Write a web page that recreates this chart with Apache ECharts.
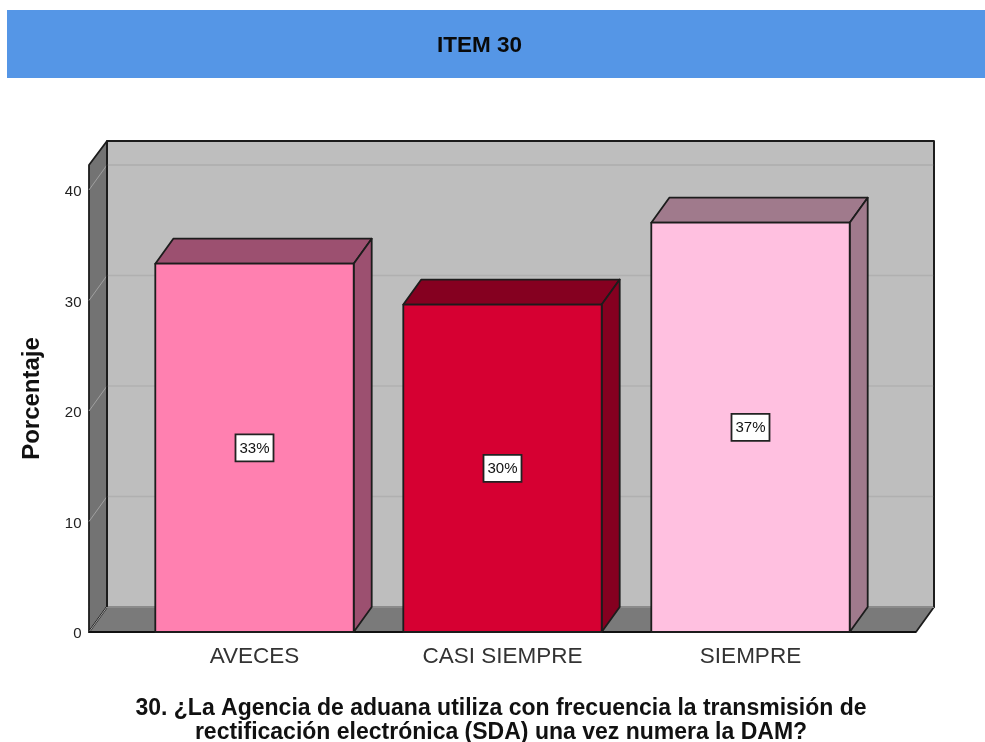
<!DOCTYPE html>
<html>
<head>
<meta charset="utf-8">
<style>html,body{margin:0;padding:0;background:#fff}</style>
<script src="https://cdn.jsdelivr.net/npm/echarts@6/dist/echarts.min.js"></script>
</head>
<body>
<div id="chart" style="width:985px;height:742px"></div>
<script>
var categories = ['AVECES', 'CASI SIEMPRE', 'SIEMPRE'];
var percentages = [33.33, 29.63, 37.04];
var pctLabels = ['33%', '30%', '37%'];
var yTicks = [0, 10, 20, 30, 40];

var frontColors = ['#ff80b0', '#d60032', '#ffc0e0'];
var sideColors = ['#9c5070', '#850020', '#a07a8c'];

// depth of the fake 3d box
var DX = 18, DY = -25;
var EDGE = '#1c1c1c';
var LW = 1.8;
var FONT = '"Liberation Sans", Arial, sans-serif';

function poly(points, fill, stroke, width) {
  return {
    type: 'polygon',
    shape: { points: points },
    style: { fill: fill, stroke: stroke || null, lineWidth: width || 0, lineJoin: 'round' }
  };
}
function seg(a, b, color, width) {
  return {
    type: 'line',
    shape: { x1: a[0], y1: a[1], x2: b[0], y2: b[1] },
    style: { stroke: color, lineWidth: width, fill: null }
  };
}

function renderWalls(params, api) {
  var cs = params.coordSys;
  var l = cs.x - 41.5, r = cs.x + cs.width + 41.5;
  var b = cs.y + cs.height, t = cs.y;
  var backTop = t + DY + 1;
  var children = [
    poly([[l + DX, backTop], [r + DX, backTop], [r + DX, b + DY], [l + DX, b + DY]], '#bebebe', EDGE, LW),
    poly([[l, t], [l + DX, backTop], [l + DX, b + DY], [l, b]], '#737373', EDGE, LW),
    poly([[l, b], [l + DX, b + DY], [r + DX, b + DY], [r, b]], '#7a7a7a', EDGE, LW)
  ];
  // gridlines on back and side walls, plus the top one at the edge of the box
  yTicks.forEach(function (v) {
    var y = api.coord([0, v])[1];
    children.push(seg([l, y], [l + DX, y + DY], '#a0a0a0', 1));
    children.push(seg([l + DX, y + DY], [r + DX, y + DY], '#b0b0b0', 1.5));
  });
  children.push(seg([l + DX, t], [r + DX, t], '#b0b0b0', 1.5));
  children.push(seg([l, b], [r, b], '#111', 2));
  children.push(seg([l + DX, backTop], [r + DX, backTop], EDGE, LW));
  children.push(seg([r + DX, backTop], [r + DX, b + DY], EDGE, LW));
  children.push(seg([l + DX, backTop], [l + DX, b + DY], EDGE, LW));
  return { type: 'group', children: children };
}

function renderBar(params, api) {
  var i = api.value(0);
  var c = api.coord([i, api.value(1)]);
  var base = api.coord([i, 0]);
  var mid = api.coord([i, api.value(1) / 2]);
  var w = api.size([1, 0])[0] * 0.8;
  var x0 = c[0] - w / 2, x1 = c[0] + w / 2, top = c[1], bot = base[1];
  return {
    type: 'group',
    children: [
      poly([[x0, top], [x0 + DX, top + DY], [x1 + DX, top + DY], [x1, top]], sideColors[i], EDGE, LW),
      poly([[x1, top], [x1 + DX, top + DY], [x1 + DX, bot + DY], [x1, bot]], sideColors[i], EDGE, LW),
      poly([[x0, top], [x1, top], [x1, bot], [x0, bot]], frontColors[i], EDGE, LW),
      {
        type: 'rect',
        shape: { x: c[0] - 19, y: mid[1] - 13.5, width: 38, height: 27 },
        style: { fill: '#fff', stroke: '#222', lineWidth: 1.8 }
      },
      {
        type: 'text',
        x: c[0], y: mid[1] + 1,
        style: {
          text: pctLabels[i], fill: '#111', font: '15px ' + FONT,
          align: 'center', verticalAlign: 'middle'
        }
      }
    ]
  };
}

var myChart = echarts.init(document.getElementById('chart'));

var options = {
  animation: false,
  graphic: [
    { type: 'rect', z: -1, shape: { x: 7, y: 10, width: 978, height: 68 }, style: { fill: '#5596e6' } }
  ],
  title: [
    {
      text: 'ITEM 30', left: 479.5, top: 46, padding: 0, textAlign: 'center', textVerticalAlign: 'middle',
      textStyle: { fontFamily: FONT, fontSize: 22.5, fontWeight: 'bold', color: '#0a0a0a' }
    },
    {
      text: '30. ¿La Agencia de aduana utiliza con frecuencia la transmisión de\nrectificación electrónica (SDA) una vez numera la DAM?',
      left: 501, top: 697, padding: 0, textAlign: 'center',
      textStyle: { fontFamily: FONT, fontSize: 23, fontWeight: 'bold', color: '#111', lineHeight: 24 }
    }
  ],
  grid: { left: 130.5, right: 110.5, top: 165, bottom: 110 },
  xAxis: {
    type: 'category',
    data: categories,
    axisLine: { show: false },
    axisTick: { show: false },
    axisLabel: { fontFamily: FONT, fontSize: 22.5, color: '#333', margin: 13 }
  },
  yAxis: {
    type: 'value',
    min: 0,
    max: 42.26,
    interval: 10,
    name: 'Porcentaje',
    nameLocation: 'middle',
    nameGap: 86,
    nameTextStyle: { fontFamily: FONT, fontSize: 24, fontWeight: 'bold', color: '#111' },
    axisLine: { show: false },
    axisTick: { show: false },
    splitLine: { show: false },
    axisLabel: { fontFamily: FONT, fontSize: 15, color: '#222', margin: 49, verticalAlign: 'top', lineHeight: 4, showMaxLabel: false }
  },
  series: [
    {
      type: 'custom',
      silent: true,
      clip: false,
      z: 1,
      renderItem: renderWalls,
      data: [[0, 0]]
    },
    {
      type: 'custom',
      clip: false,
      z: 2,
      renderItem: renderBar,
      encode: { x: 0, y: 1 },
      data: percentages.map(function (v, i) { return [i, v]; })
    }
  ]
};

myChart.setOption(options, true);
</script>
</body>
</html>
